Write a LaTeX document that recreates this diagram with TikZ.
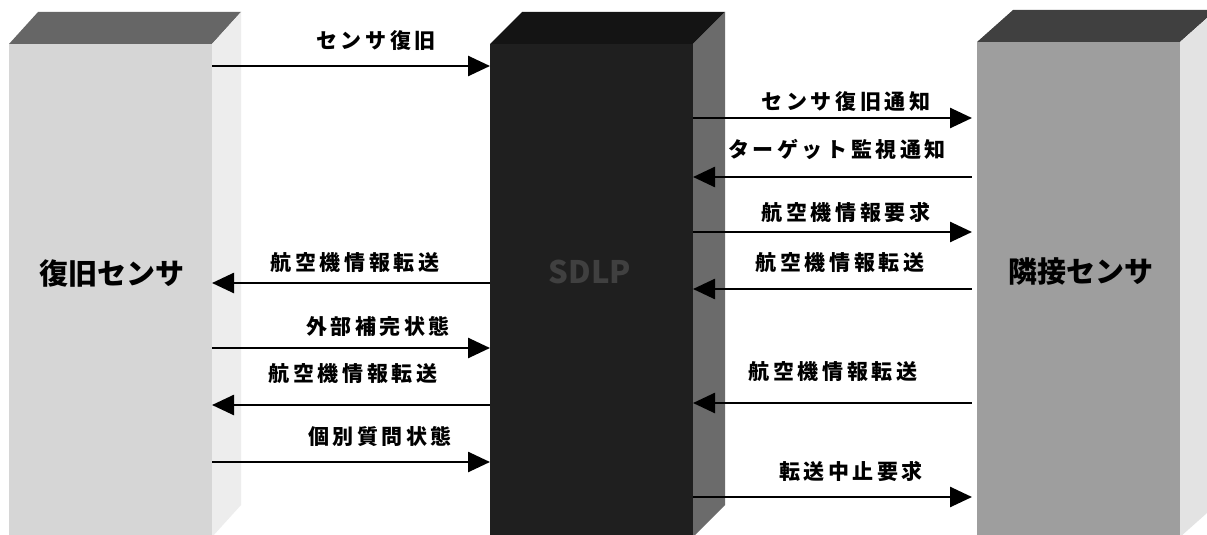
\documentclass[tikz,border=0pt]{standalone}
\usepackage{fontspec}
\newfontfamily\msgfont[LetterSpace=17]{Noto Sans CJK JP}
\newfontfamily\boxfont{Noto Sans CJK JP}
\usetikzlibrary{arrows.meta}
\definecolor{recovfront}{gray}{0.84}
\definecolor{recovside}{gray}{0.93}
\definecolor{recovtop}{gray}{0.40}
\definecolor{sdlpfront}{gray}{0.12}
\definecolor{sdlpside}{gray}{0.42}
\definecolor{sdlptop}{gray}{0.08}
\definecolor{adjfront}{gray}{0.62}
\definecolor{adjside}{gray}{0.89}
\definecolor{adjtop}{gray}{0.25}
\tikzset{
  box-front/.style={rectangle, minimum width=203pt, inner sep=0pt, outer sep=0pt},
  box-label/.style={font=\boxfont\bfseries\fontsize{29}{29}\selectfont, inner sep=0pt},
  msg-label/.style={font=\msgfont\bfseries\fontsize{21}{21}\selectfont, inner sep=0pt},
  msg/.style={line width=2.6pt},
  msg-r/.style={msg, -{Triangle[length=22pt,width=20pt]}},
  msg-l/.style={msg, {Triangle[length=22pt,width=20pt]}-}
}
% top and side faces of a block: node, top colour, side colour, depth
\newcommand{\blockfaces}[4]{
  \fill[#2] (#1.north west) -- ++(#4,-32) -- ([shift={(#4,-32)}]#1.north east)
    -- (#1.north east) -- cycle;
  \fill[#3] (#1.north east) -- ++(#4,-32) -- ([shift={(#4,-32)}]#1.south east)
    -- (#1.south east) -- cycle;
}

\begin{document}
\begin{tikzpicture}[x=1pt, y=-1pt]
  \useasboundingbox (0,0) rectangle (1207,535);
  \fill[white] (0,0) rectangle (1207,535);

  % --- Blocks ---
  \node[box-front, fill=recovfront, minimum height=493pt] (recov) at (110.5,290.5) {};
  \node[box-front, fill=sdlpfront, minimum height=493pt] (sdlp) at (591.5,290.5) {};
  \node[box-front, fill=adjfront, minimum height=495pt] (adj) at (1078.5,289.5) {};
  \blockfaces{recov}{recovtop}{recovside}{29}
  \blockfaces{sdlp}{sdlptop}{sdlpside}{32}
  \blockfaces{adj}{adjtop}{adjside}{36}

  \node[box-label] (recov-name) at (112,274) {復旧センサ};
  \node[box-label, font=\boxfont\bfseries\fontsize{31}{31}\selectfont, text=black!75] (sdlp-name) at (590,272) {SDLP};
  \node[box-label] (adj-name) at (1081,272) {隣接センサ};

  % --- Messages between recovered sensor and SDLP ---
  \foreach \y/\tip/\lx/\ly/\txt in {
      66/msg-r/376/41/センサ復旧,
      283/msg-l/355/263/航空機情報転送,
      348/msg-r/378/326/外部補完状態,
      405/msg-l/353/374/航空機情報転送,
      462/msg-r/380/436/個別質問状態} {
    \draw[\tip] (recov.east |- 0,\y) -- (sdlp.west |- 0,\y);
    \node[msg-label] (lbl-left-\y) at (\lx,\ly) {\txt};
  }

  % --- Messages between SDLP and adjacent sensor ---
  \foreach \y/\tip/\lx/\ly/\txt in {
      118/msg-r/846/102/センサ復旧通知,
      177/msg-l/837/149/ターゲット監視通知,
      232/msg-r/846/212/航空機情報要求,
      289/msg-l/840/263/航空機情報転送,
      403/msg-l/833/372/航空機情報転送,
      497/msg-r/851/471/転送中止要求} {
    \draw[\tip, shorten >=5pt] (sdlp.east |- 0,\y) -- (adj.west |- 0,\y);
    \node[msg-label] (lbl-right-\y) at (\lx,\ly) {\txt};
  }
\end{tikzpicture}
\end{document}
